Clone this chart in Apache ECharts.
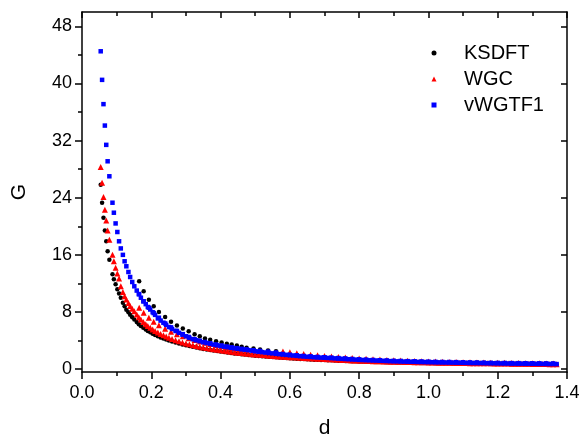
<!DOCTYPE html>
<html>
<head>
<meta charset="utf-8">
<script src="https://cdn.jsdelivr.net/npm/echarts@6/dist/echarts.min.js"></script>
<style>html,body{margin:0;padding:0;background:#fff;}#c{width:585px;height:436px;}</style>
</head>
<body>
<div id="c"></div>
<script>
// Main sampling of d (shared by all three methods)
const dMain = [0.054,0.058,0.062,0.066,0.070,0.074,0.079,0.088,0.092,0.097,0.102,0.107,0.112,0.118,0.123,0.128,0.134,0.139,0.145,0.151,0.158,0.164,0.170,0.177,0.184,0.190,0.197,0.204,0.211,0.219,0.227,0.235,0.243,0.251,0.260,0.270,0.280,0.290,0.300,
0.31,0.32,0.33,0.34,0.35,0.36,0.37,0.38,0.39,
0.40,0.41,0.42,0.43,0.44,0.45,0.46,0.47,0.48,0.49,
0.50,0.51,0.52,0.53,0.54,0.55,0.56,0.57,0.58,0.59,
0.60,0.61,0.62,0.63,0.64,0.65,0.66,0.67,0.68,0.69,
0.70,0.71,0.72,0.73,0.74,0.75,0.76,0.77,0.78,0.79,
0.80,0.81,0.82,0.83,0.84,0.85,0.86,0.87,0.88,0.89,
0.90,0.91,0.92,0.93,0.94,0.95,0.96,0.97,0.98,0.99,
1.00,1.01,1.02,1.03,1.04,1.05,1.06,1.07,1.08,1.09,
1.10,1.11,1.12,1.13,1.14,1.15,1.16,1.17,1.18,1.19,
1.20,1.21,1.22,1.23,1.24,1.25,1.26,1.27,1.28,1.29,
1.30,1.31,1.32,1.33,1.34,1.35,1.36,1.37];

const ksdftMain = [25.8,23.3,21.2,19.4,17.9,16.5,15.3,13.3,12.6,11.9,11.2,10.6,10.0,9.3,8.8,8.3,7.95,7.6,7.25,6.95,6.6,6.3,6.05,5.8,5.55,5.35,5.15,4.95,4.78,4.6,4.43,4.28,4.14,4.0,3.86,3.72,3.58,3.46,3.34,
3.24,3.14,3.03,2.92,2.83,2.75,2.67,2.6,2.53,
2.46,2.39,2.32,2.26,2.2,2.14,2.09,2.04,1.99,1.94,
1.89,1.85,1.81,1.77,1.73,1.69,1.65,1.62,1.58,1.55,
1.52,1.49,1.46,1.43,1.41,1.38,1.36,1.33,1.31,1.29,
1.27,1.25,1.23,1.21,1.19,1.17,1.15,1.13,1.11,1.09,
1.07,1.06,1.05,1.03,1.02,1.01,1.0,0.99,0.97,0.96,
0.95,0.94,0.93,0.92,0.91,0.9,0.89,0.88,0.87,0.87,
0.86,0.85,0.84,0.83,0.83,0.82,0.81,0.8,0.8,0.79,
0.78,0.78,0.77,0.76,0.76,0.75,0.75,0.74,0.73,0.73,
0.72,0.72,0.71,0.71,0.7,0.7,0.69,0.69,0.68,0.68,
0.67,0.67,0.66,0.66,0.65,0.65,0.64,0.63];

const wgcMain = [28.3,26.1,24.1,22.3,20.8,19.4,18.1,16.0,15.1,14.2,13.4,12.7,11.6,10.8,10.2,9.75,9.25,8.85,8.45,8.1,7.65,7.25,6.95,6.6,6.3,6.05,5.78,5.55,5.33,5.12,4.92,4.73,4.56,4.4,4.22,4.05,3.89,3.74,3.6,
3.47,3.35,3.24,3.14,3.04,2.95,2.86,2.78,2.7,
2.63,2.56,2.49,2.43,2.37,2.31,2.25,2.2,2.15,2.1,
2.05,2.01,1.97,1.93,1.89,1.85,1.81,1.78,1.74,1.71,
1.68,1.65,1.62,1.59,1.56,1.54,1.51,1.49,1.46,1.44,
1.42,1.39,1.37,1.34,1.32,1.29,1.27,1.24,1.22,1.2,
1.18,1.17,1.15,1.14,1.12,1.11,1.09,1.08,1.07,1.05,
1.04,1.03,1.02,1.01,1.0,0.99,0.98,0.97,0.96,0.95,
0.94,0.93,0.92,0.91,0.9,0.9,0.89,0.88,0.87,0.87,
0.86,0.85,0.84,0.84,0.83,0.83,0.82,0.81,0.81,0.8,
0.79,0.79,0.78,0.78,0.77,0.76,0.76,0.75,0.75,0.74,
0.73,0.73,0.72,0.72,0.71,0.7,0.7,0.69];

const vwgtfMain = [44.5,40.5,37.1,34.1,31.4,29.1,27.0,23.3,21.9,20.4,19.2,17.9,16.9,16.0,15.1,14.4,13.6,12.9,12.2,11.6,11.0,10.5,10.0,9.5,9.1,8.7,8.35,7.97,7.6,7.1,6.8,6.5,6.2,5.9,5.62,5.35,5.08,4.83,4.6,
4.38,4.2,4.04,3.9,3.77,3.65,3.54,3.43,3.33,
3.24,3.15,3.07,2.99,2.92,2.85,2.78,2.72,2.66,2.6,
2.5,2.44,2.38,2.32,2.26,2.21,2.15,2.1,2.05,2.0,
1.95,1.91,1.86,1.82,1.78,1.74,1.71,1.67,1.64,1.62,
1.6,1.57,1.54,1.51,1.48,1.45,1.42,1.39,1.36,1.33,
1.3,1.28,1.26,1.24,1.22,1.2,1.18,1.16,1.14,1.12,
1.1,1.09,1.08,1.06,1.05,1.04,1.03,1.01,1.0,0.99,
0.98,0.97,0.96,0.95,0.94,0.93,0.93,0.92,0.91,0.9,
0.89,0.88,0.87,0.86,0.86,0.85,0.84,0.83,0.82,0.82,
0.81,0.8,0.8,0.79,0.78,0.78,0.77,0.77,0.76,0.76,
0.75,0.75,0.74,0.74,0.73,0.72,0.72,0.71];

// Second set of configurations (the upper branch)
const dSecond = [0.165,0.178,0.193,0.207,0.222,0.240,0.257,0.274,0.291,0.308,0.325,0.340,0.355,0.370,0.387,0.403,0.418,0.432,0.447,0.461,0.475,0.495,0.514,0.537,0.560,
0.58,0.60,0.62,0.64,0.66,0.68,0.70,0.72,0.74,0.76,0.78,0.80,0.82,0.84,0.86,0.88,0.90,0.92,0.94,0.96,0.98,
1.00,1.02,1.04,1.06,1.08,1.10,1.12,1.14,1.16,1.18,1.20,1.22,1.24,1.26,1.28,1.30,1.32,1.34,1.36];

const ksdftSecond = [12.3,10.9,9.7,8.8,8.0,7.3,6.65,6.1,5.7,5.3,4.9,4.6,4.3,4.1,3.9,3.73,3.55,3.45,3.3,3.12,3.0,2.9,2.75,2.6,2.5,
2.09,1.99,1.9,1.82,1.75,1.68,1.63,1.57,1.51,1.45,1.39,1.33,1.29,1.25,1.21,1.17,1.13,1.1,1.07,1.05,1.02,
1.0,0.98,0.96,0.95,0.93,0.91,0.89,0.88,0.86,0.84,0.83,0.82,0.8,0.79,0.78,0.77,0.76,0.75,0.74];

const wgcSecond = [8.6,7.9,7.2,6.65,6.15,5.65,5.25,4.9,4.6,4.33,4.08,3.88,3.7,3.53,3.36,3.2,3.07,2.96,2.86,2.76,2.67,2.56,2.46,2.35,2.25,
2.48,2.35,2.23,2.12,2.02,1.93,1.85,1.77,1.7,1.63,1.56,1.5,1.44,1.39,1.34,1.29,1.24,1.21,1.17,1.14,1.11,
1.08,1.06,1.03,1.01,0.99,0.97,0.95,0.94,0.92,0.91,0.89,0.88,0.86,0.85,0.84,0.82,0.81,0.8,0.78];

const vwgtfSecond = [10.5,9.5,8.6,7.85,7.2,6.4,5.85,5.35,4.9,4.5,4.2,3.98,3.8,3.63,3.45,3.3,3.16,3.05,2.94,2.84,2.76,2.65,2.55,2.45,2.33,
2.12,2.02,1.93,1.85,1.78,1.71,1.67,1.61,1.55,1.49,1.43,1.37,1.33,1.29,1.25,1.21,1.17,1.15,1.12,1.1,1.07,
1.05,1.03,1.01,1.0,0.98,0.96,0.94,0.93,0.91,0.89,0.88,0.87,0.85,0.84,0.83,0.82,0.81,0.8,0.79];

const seriesNames = ['KSDFT','WGC','vWGTF1'];
const xTicks = [0,0.2,0.4,0.6,0.8,1.0,1.2,1.4];
const yTicks = [0,8,16,24,32,40,48];
const yMinorTicks = [4,12,20,28,36,44];

function pairs(xs, ys){
  if (xs.length !== ys.length) throw new Error('length mismatch ' + xs.length + ' vs ' + ys.length);
  return xs.map((x,i)=>[x, ys[i]]);
}

const FONT = '"Liberation Sans", Arial, sans-serif';
const chart = echarts.init(document.getElementById('c'), null, {renderer:'canvas'});

const axLine = {show:true, onZero:false, lineStyle:{color:'#000', width:1.5}};
function yAx(pos, ticks, inside, len, showLine, showLabel){
  return {
    type:'value', min:-0.4, max:50, position:pos,
    axisLine: showLine ? axLine : {show:false},
    axisTick:{show:true, inside:inside, length:len, customValues:ticks, lineStyle:{color:'#000', width:1.5}},
    axisLabel: showLabel ? {show:true, customValues:ticks, fontSize:18, fontFamily:FONT, color:'#000', margin:10} : {show:false},
    splitLine:{show:false}
  };
}

const yAxes = [yAx('left', yTicks, false, 7, true, true), yAx('left', yMinorTicks, false, 4, false, false),
  yAx('right', yTicks, true, 6, true, false), yAx('right', yMinorTicks, true, 4, false, false)];
yAxes[0].name = 'G';
yAxes[0].nameLocation = 'middle';
yAxes[0].nameGap = 52;
yAxes[0].nameTextStyle = {fontSize:21, fontFamily:FONT, color:'#000'};

chart.setOption({
  animation:false,
  backgroundColor:'#fff',
  grid:{left:82, right:18, top:12, bottom:64, containLabel:false, outerBoundsMode:'none'},
  legend:{
    orient:'vertical', left:431.5, top:43, padding:0, itemGap:6, itemWidth:5, itemHeight:5,
    data:[{name:'KSDFT', icon:'circle'},{name:'WGC', icon:'triangle'},{name:'vWGTF1', icon:'rect'}],
    textStyle:{fontSize:20, fontFamily:FONT, color:'#000', padding:[0,0,0,22.5], lineHeight:20}
  },
  xAxis:[
    {type:'value', min:0, max:1.4, interval:0.2, position:'bottom',
     axisLine:axLine,
     axisTick:{show:true, inside:false, length:7, lineStyle:{color:'#000', width:1.5}},
     minorTick:{show:true, splitNumber:2, length:4, lineStyle:{color:'#000', width:1.5}},
     axisLabel:{fontSize:18, fontFamily:FONT, color:'#000', margin:12, formatter:v=>v.toFixed(1)},
     splitLine:{show:false}, minorSplitLine:{show:false},
     name:'d', nameLocation:'middle', nameGap:46, nameTextStyle:{fontSize:21, fontFamily:FONT, color:'#000'}},
    {type:'value', min:0, max:1.4, interval:0.2, position:'top',
     axisLine:axLine,
     axisTick:{show:true, inside:true, length:6, lineStyle:{color:'#000', width:1.5}},
     minorTick:{show:true, splitNumber:2, length:4, lineStyle:{color:'#000', width:1.5}},
     axisLabel:{show:false}, splitLine:{show:false}}
  ],
  yAxis: yAxes,
  series:[
    {name:'KSDFT', type:'scatter', symbol:'circle', symbolSize:4.5, itemStyle:{color:'#000000', opacity:1},
     data:pairs(dMain, ksdftMain).concat(pairs(dSecond, ksdftSecond))},
    {name:'WGC', type:'scatter', symbol:'triangle', symbolSize:6, itemStyle:{color:'#ff0000', opacity:1},
     data:pairs(dMain, wgcMain).concat(pairs(dSecond, wgcSecond))},
    {name:'vWGTF1', type:'scatter', symbol:'rect', symbolSize:4.5, itemStyle:{color:'#0000ff', opacity:1},
     data:pairs(dMain, vwgtfMain).concat(pairs(dSecond, vwgtfSecond))}
  ]
});
</script>
</body>
</html>
